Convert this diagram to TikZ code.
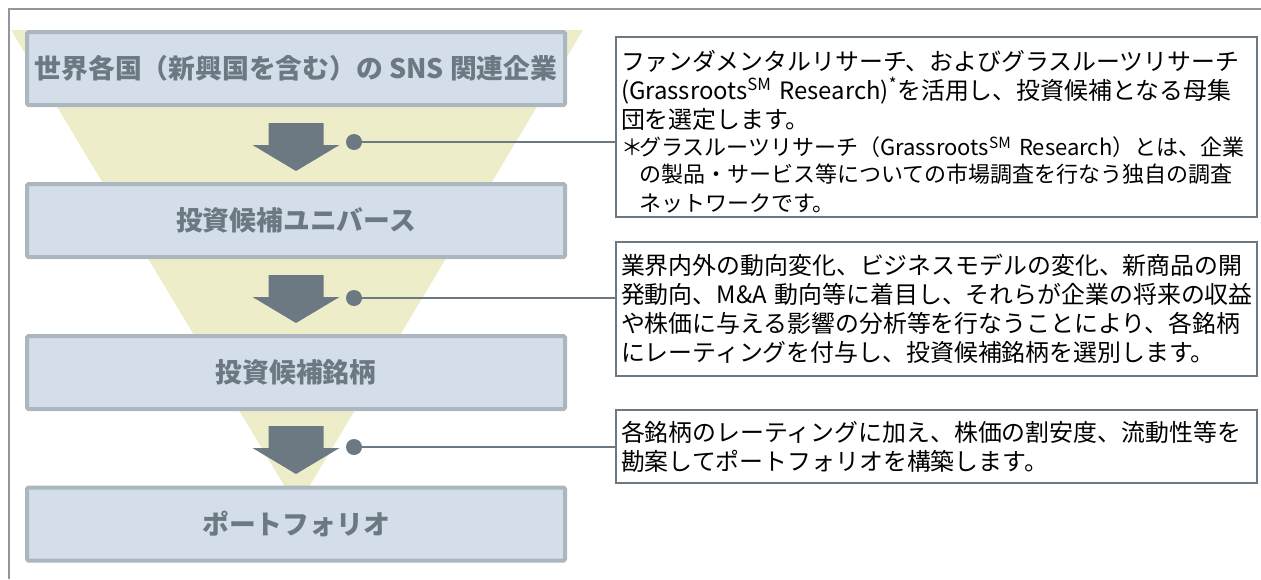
\documentclass[tikz,border=0pt]{standalone}
\usepackage{fontspec}
\setmainfont{Noto Sans CJK JP}
\usetikzlibrary{positioning, calc}
\definecolor{framegray}{RGB}{142,151,156}
\definecolor{stepfill}{RGB}{211,222,234}
\definecolor{stepline}{RGB}{171,182,190}
\definecolor{steptext}{RGB}{108,121,131}
\definecolor{funnel}{RGB}{237,238,201}
\definecolor{flow}{RGB}{108,121,130}

\begin{document}
\begin{tikzpicture}[x=1pt, y=-1pt,
    stepbox/.style={draw=stepline, line width=4pt, fill=stepfill, rounded corners=1.5pt,
      minimum width=538pt, minimum height=73pt, text=steptext,
      font=\fontsize{26.8}{30}\selectfont\bfseries},
    notebox/.style={draw=flow, line width=2pt, fill=white, text width=631pt, align=left,
      inner xsep=5pt, inner ysep=4pt, font=\fontsize{23.9}{29}\selectfont},
    dotmark/.style={circle, fill=flow, inner sep=0pt, minimum size=16pt},
    link/.style={draw=flow, line width=2pt}]
    \useasboundingbox (0,0) rectangle (1261,579);
    % outer frame (top and left only)
    \draw[framegray, line width=1.5pt] (9,579) -- (9,9) -- (1261,9);

    % funnel behind the steps
    \fill[funnel] (11,30) -- (583,30) -- (297,507) -- cycle;

    % steps
    \node[stepbox] (s1) at (296,68.5) {世界各国（新興国を含む）の SNS 関連企業};
    \node[stepbox] (s2) at (296,220.5) {投資候補ユニバース};
    \node[stepbox] (s3) at (296,372.5) {投資候補銘柄};
    \node[stepbox] (s4) at (296,524) {ポートフォリオ};

    % down arrows between steps
    \foreach \i/\ytop in {1/123, 2/275, 3/426} {
      \coordinate (a\i) at (296,\ytop);
      \fill[flow] ($(a\i)+(-27.5,0)$) -- ++(55,0) -- ++(0,22) -- ++(16,0)
        -- ($(a\i)+(0,48)$) -- ($(a\i)+(-43.5,22)$) -- ++(16,0) -- cycle;
    }

    % notes
    \node[notebox, minimum height=179pt] (n1) at (936.5,127) {\rule{0pt}{30pt}ファンダメンタルリサーチ、およびグラスルーツリサーチ\\
      (Grassroots\textsuperscript{SM} Research)\textsuperscript{*}を活用し、投資候補となる母集\\
      団を選定します。\par
      \fontsize{22}{27}\selectfont
      \mbox{\makebox[18pt][l]{＊}グラスルーツリサーチ（Grassroots\textsuperscript{SM} Research）とは、企業}\\
      \mbox{\hspace*{18pt}の製品・サービス等についての市場調査を行なう独自の調査}\\
      \mbox{\hspace*{18pt}ネットワークです。}};
    \node[notebox, minimum height=134pt] (n2) at (936.5,309) {業界内外の動向変化、ビジネスモデルの変化、新商品の開\\
      発動向、M\&A 動向等に着目し、それらが企業の将来の収益\\
      や株価に与える影響の分析等を行なうことにより、各銘柄\\
      にレーティングを付与し、投資候補銘柄を選別します。};
    \node[notebox, minimum height=73pt] (n3) at (936.5,446.5) {各銘柄のレーティングに加え、株価の割安度、流動性等を\\
      勘案してポートフォリオを構築します。};

    % dots and leader lines
    \node[dotmark] (d1) at (354,142) {};
    \node[dotmark] (d2) at (354,298) {};
    \node[dotmark] (d3) at (354,447) {};
    \draw[link] (d1) -- (d1 -| n1.west);
    \draw[link] (d2) -- (d2 -| n2.west);
    \draw[link] (d3) -- (d3 -| n3.west);
\end{tikzpicture}
\end{document}
